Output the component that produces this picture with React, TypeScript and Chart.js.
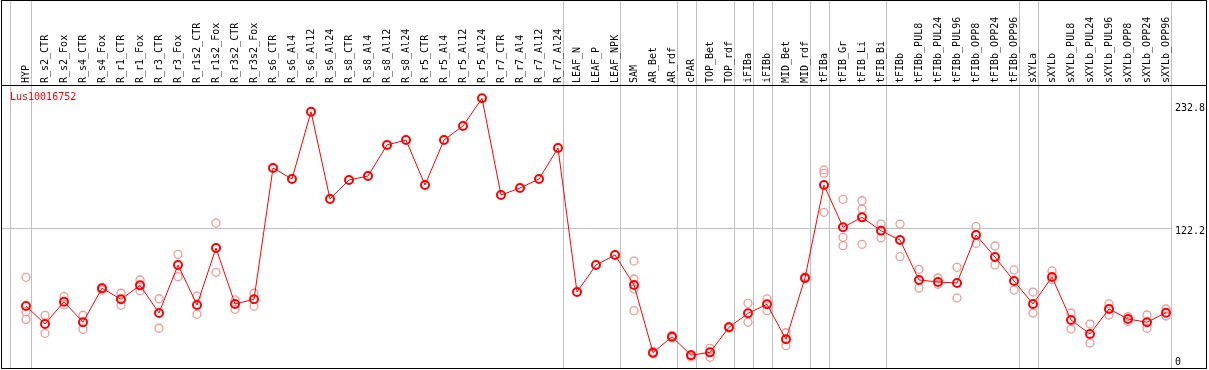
import React, { useEffect, useRef } from "react";
import { Chart, registerables } from "chart.js";

Chart.register(...registerables);

const categories = [
  "HYP", "R_s2_CTR", "R_s2_Fox", "R_s4_CTR", "R_s4_Fox", "R_r1_CTR", "R_r1_Fox", "R_r3_CTR", "R_r3_Fox",
  "R_r1s2_CTR", "R_r1s2_Fox", "R_r3s2_CTR", "R_r3s2_Fox", "R_s6_CTR", "R_s6_Al4", "R_s6_Al12", "R_s6_Al24",
  "R_s8_CTR", "R_s8_Al4", "R_s8_Al12", "R_s8_Al24", "R_r5_CTR", "R_r5_Al4", "R_r5_Al12", "R_r5_Al24",
  "R_r7_CTR", "R_r7_Al4", "R_r7_Al12", "R_r7_Al24", "LEAF_N", "LEAF_P", "LEAF_NPK", "SAM", "AR_Bet", "AR_rdf",
  "cPAR", "TOP_Bet", "TOP_rdf", "iFIBa", "iFIBb", "MID_Bet", "MID_rdf", "tFIBa", "tFIB_Gr", "tFIB_Li", "tFIB_Bi",
  "tFIBb", "tFIBb_PUL8", "tFIBb_PUL24", "tFIBb_PUL96", "tFIBb_OPP8", "tFIBb_OPP24", "tFIBb_OPP96",
  "sXYLa", "sXYLb", "sXYLb_PUL8", "sXYLb_PUL24", "sXYLb_PUL96", "sXYLb_OPP8", "sXYLb_OPP24", "sXYLb_OPP96",
];

const meanValues = [
  52.5, 36.3, 56.3, 37.9, 68.4, 58.5, 71.0, 46.2, 89.3, 53.4, 104.5, 54.3, 58.5,
  176.3, 166.4, 226.8, 148.4, 165.5, 169.1, 196.9, 201.4, 161.0, 201.4, 214.0, 238.8,
  152.0, 158.3, 166.4, 194.2, 65.0, 89.3, 98.2, 71.3, 10.6, 24.9, 8.3, 10.9, 33.4,
  45.9, 54.0, 22.6, 77.6, 161.0, 123.1, 132.0, 120.0, 111.7, 75.8, 74.0, 73.1,
  116.2, 96.4, 74.9, 54.3, 78.5, 39.9, 27.4, 49.8, 40.8, 37.9, 46.5,
];

const replicateValues: number[][] = [
  [78.2, 47.4, 40.5], [44.1, 28.0], [60.8, 53.4], [44.1, 31.6], [68.9, 66.8], [63.9, 53.1],
  [75.8, 66.2], [59.0, 32.5], [98.8, 78.8], [61.4, 45.0], [82.7, 126.9], [57.9, 49.5], [63.9, 52.2],
  [], [], [], [], [], [], [], [], [], [], [], [], [], [], [], [], [], [], [],
  [92.8, 76.7, 67.7, 48.3], [11.5, 9.5], [26.0, 23.8], [6.7, 9.0], [14.5, 6.5], [34.0, 32.8],
  [54.9, 37.9], [58.8, 48.3], [28.5, 16.9], [78.5, 76.8], [174.5, 171.5, 136.5],
  [148.2, 114.1, 106.6], [146.9, 139.5, 107.8], [126.0, 113.7], [126.0, 96.7], [85.4, 68.6],
  [77.6, 72.0], [87.2, 59.7], [123.6, 108.7], [106.3, 89.3], [84.8, 66.8], [65.0, 46.2],
  [83.9, 76.0], [46.2, 31.8], [36.3, 19.3], [54.3, 44.4], [43.0, 38.5], [44.4, 32.5], [49.8, 43.5],
];

const yTickValues = [0, 122.2, 232.8];
const gridTickValues = [122.2];
const groupBoundaries = [-0.84, 0.24, 28.24, 31.24, 34.24, 35.24, 37.24, 38.24, 39.24, 41.24, 42.24, 45.24, 52.24, 53.24, 60.24];
const seriesName = "Lus10016752";

const FONT = '10px "DejaVu Sans Mono", monospace';

const decorPlugin = {
  id: "decor",
  beforeDatasetsDraw(chart: any) {
    const { ctx, scales, chartArea } = chart;
    ctx.save();
    ctx.strokeStyle = "#c0c0c0";
    ctx.lineWidth = 1;
    for (const b of groupBoundaries) {
      const px = Math.round(scales.x.getPixelForValue(b)) + 0.5;
      ctx.beginPath();
      ctx.moveTo(px, 0);
      ctx.lineTo(px, chartArea.bottom);
      ctx.stroke();
    }
    for (const v of gridTickValues) {
      const py = Math.round(scales.y.getPixelForValue(v)) + 0.5;
      ctx.beginPath();
      ctx.moveTo(chartArea.left, py);
      ctx.lineTo(chartArea.right, py);
      ctx.stroke();
    }
    ctx.restore();
  },
  afterDraw(chart: any) {
    const { ctx, scales, chartArea } = chart;
    ctx.save();
    ctx.font = FONT;
    ctx.fillStyle = "#000";
    categories.forEach((c, i) => {
      const px = scales.x.getPixelForValue(i);
      ctx.save();
      ctx.translate(px, chartArea.top - 2);
      ctx.rotate(-Math.PI / 2);
      ctx.textAlign = "left";
      ctx.textBaseline = "middle";
      ctx.fillText(c, 0, 0);
      ctx.restore();
    });
    ctx.textAlign = "left";
    ctx.textBaseline = "top";
    for (const v of yTickValues) {
      let py = scales.y.getPixelForValue(v) - 2;
      py = Math.min(py, chartArea.bottom - 11);
      ctx.fillText(String(v), chartArea.right + 4, py);
    }
    ctx.fillStyle = "#ff0000";
    ctx.textBaseline = "middle";
    ctx.fillText(seriesName, 10, 97);
    ctx.strokeStyle = "#000";
    ctx.lineWidth = 1;
    ctx.strokeRect(1.5, 0.5, 1205, 368);
    ctx.beginPath();
    ctx.moveTo(1.5, chartArea.top + 0.5);
    ctx.lineTo(1206.5, chartArea.top + 0.5);
    ctx.stroke();
    ctx.restore();
  },
};

export default function App() {
  const ref = useRef<HTMLCanvasElement | null>(null);
  useEffect(() => {
    if (!ref.current) return;
    const replicatePoints = categories.flatMap((_, i) => replicateValues[i].map((v) => ({ x: i, y: v })));
    const meanPoints = meanValues.map((v, i) => ({ x: i, y: v }));
    const chart = new Chart(ref.current, {
      type: "line",
      data: {
        datasets: [
          {
            label: seriesName,
            data: meanPoints,
            borderColor: "#ff0000",
            borderWidth: 1,
            pointStyle: "circle",
            pointRadius: 4,
            pointBorderWidth: 2,
            pointBorderColor: "#ff0000",
            pointBackgroundColor: "rgba(0,0,0,0)",
            fill: false,
            tension: 0,
            order: 0,
          },
          {
            label: "replicates",
            data: replicatePoints,
            showLine: false,
            borderColor: "#f09898",
            pointStyle: "circle",
            pointRadius: 4,
            pointBorderWidth: 1.3,
            pointBorderColor: "#f09898",
            pointBackgroundColor: "rgba(0,0,0,0)",
            order: 1,
          },
        ],
      },
      options: {
        animation: false,
        responsive: false,
        events: [],
        layout: { autoPadding: false, padding: { left: 2, right: 38, top: 85, bottom: 2 } },
        plugins: { legend: { display: false }, tooltip: { enabled: false }, title: { display: false } },
        scales: {
          x: { type: "linear", display: false, min: (2 - 26) / 19, max: (1171 - 26) / 19 },
          y: { type: "linear", display: false, min: (364.5 - 368) / 1.1148, max: (364.5 - 85) / 1.1148 },
        },
      },
      plugins: [decorPlugin],
    });
    return () => chart.destroy();
  }, []);
  return (
    <div style={{ position: "fixed", left: 0, top: 0, width: 1209, height: 370, background: "#fff" }}>
      <canvas ref={ref} width={1209} height={370} style={{ width: 1209, height: 370, display: "block" }} />
    </div>
  );
}
